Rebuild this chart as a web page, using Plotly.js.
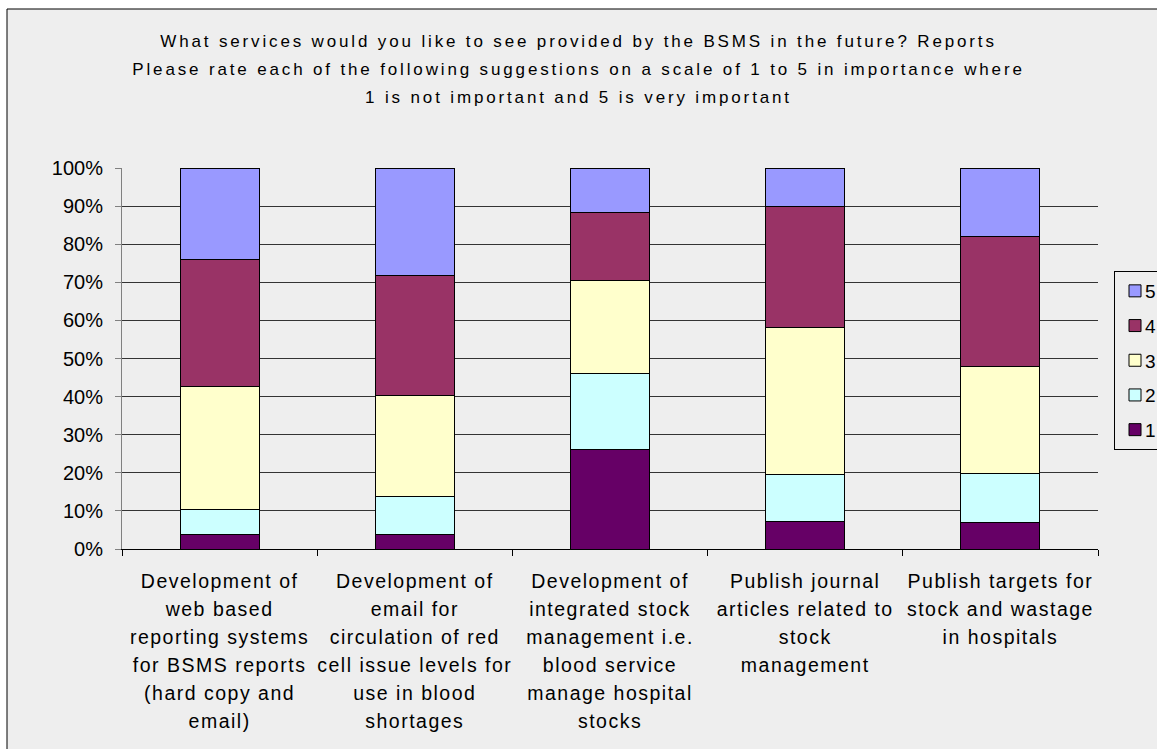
<!DOCTYPE html>
<html><head><meta charset="utf-8">
<script src="https://cdn.plot.ly/plotly-3.0.1.min.js"></script>
<style>
html,body{margin:0;padding:0;background:#fff;}
#chart{width:1157px;height:749px;}
.gtitle{letter-spacing:2.85px;}
.xtick text{letter-spacing:1.5px;}
.legend .legendtext{transform:translateX(-10px);}
</style></head><body><div id="chart"></div>
<script>
const categories = [
  "Development of web based reporting systems for BSMS reports (hard copy and email)",
  "Development of email for circulation of red cell issue levels for use in blood shortages",
  "Development of integrated stock management i.e. blood service manage hospital stocks",
  "Publish journal articles related to stock management",
  "Publish targets for stock and wastage in hospitals"
];
const categoryLabelLines = [
  ["Development of", "web based", "reporting systems", "for BSMS reports", "(hard copy and", "email)"],
  ["Development of", "email for", "circulation of red", "cell issue levels for", "use in blood", "shortages"],
  ["Development of", "integrated stock", "management i.e.", "blood service", "manage hospital", "stocks"],
  ["Publish journal", "articles related to", "stock", "management"],
  ["Publish targets for", "stock and wastage", "in hospitals"]
];
const seriesNames = ["1", "2", "3", "4", "5"];
const rating1 = [3.9, 3.9, 26.2, 7.3, 6.9];
const rating2 = [6.5, 10.0, 19.9, 12.3, 12.9];
const rating3 = [32.2, 26.4, 24.3, 38.5, 28.2];
const rating4 = [33.5, 31.4, 17.9, 31.8, 34.0];
const rating5 = [23.9, 28.3, 11.7, 10.1, 18.0];
const yTickVals = [0, 10, 20, 30, 40, 50, 60, 70, 80, 90, 100];
const yTickText = ["0%", "10%", "20%", "30%", "40%", "50%", "60%", "70%", "80%", "90%", "100%"];
const titleLines = [
  "What services would you like to see provided by the BSMS in the future? Reports",
  "Please rate each of the following suggestions on a scale of 1 to 5 in importance where",
  "1 is not important and 5 is very important"
];

const seriesValues = [rating1, rating2, rating3, rating4, rating5];
const seriesColors = ["#660066", "#CCFFFF", "#FFFFCC", "#993366", "#9999FF"];

const FONT = "Liberation Sans, Arial, sans-serif";
const traces = seriesValues.map((vals, i) => ({
  type: "bar",
  name: seriesNames[i],
  legendgroup: "g" + i,
  legendrank: seriesValues.length - i,
  x: categories,
  y: vals,
  marker: {color: seriesColors[i], line: {color: "#000000", width: 1}},
  hoverinfo: "name+y"
}));

const tickText = categoryLabelLines.map(lines =>
  '<span style="font-size:19.5px">' + lines.join("<br>") + '</span>');

// plot area in pixels: x 122..1098, y 168..549
const L = 122, R = 1157 - 1098, T = 168, B = 749 - 549;
const PW = 1157 - L - R, PH = 749 - T - B;
const px = v => (v - L) / PW;
const py = v => (749 - B - v) / PH;

const layout = {
  width: 1157, height: 749,
  margin: {l: L, r: R, t: T, b: B, autoexpand: false},
  paper_bgcolor: "#ffffff",
  plot_bgcolor: "#eeeeee",
  font: {family: FONT, color: "#000000", size: 19},
  barmode: "stack",
  bargap: 0.595,
  title: {
    text: '<span style="font-size:17px">' + titleLines.join("<br>") + '</span>',
    font: {family: FONT, size: 21.5, color: "#000000"},
    x: 0.5, xref: "container", xanchor: "center",
    y: 1 - 47 / 749, yref: "container", yanchor: "top"
  },
  xaxis: {
    type: "category",
    tickmode: "array",
    tickvals: categories,
    ticktext: tickText,
    tickson: "boundaries",
    ticks: "outside", ticklen: 6, tickcolor: "#000000",
    showline: true, linecolor: "#000000", linewidth: 1,
    showgrid: false,
    tickfont: {family: FONT, size: 21.5, color: "#000000"},
    ticklabelstandoff: 12
  },
  yaxis: {
    range: [0, 100],
    tickmode: "array",
    tickvals: yTickVals,
    ticktext: yTickText,
    ticks: "outside", ticklen: 6, tickcolor: "#808080",
    showline: true, linecolor: "#808080", linewidth: 1,
    showgrid: true, gridcolor: "#333333", gridwidth: 1,
    zeroline: false,
    tickfont: {family: FONT, size: 20, color: "#000000"},
    ticklabelstandoff: 8
  },
  legend: {
    x: px(1114), y: py(271), xanchor: "left", yanchor: "top",
    bgcolor: "#eeeeee", bordercolor: "#000000", borderwidth: 1,
    font: {family: FONT, size: 19, color: "#000000"},
    traceorder: "grouped",
    tracegroupgap: 7
  },
  shapes: [{
    type: "rect", xref: "paper", yref: "paper", layer: "below",
    x0: px(7), x1: px(1175), y0: py(765), y1: py(9),
    line: {color: "#000000", width: 1},
    fillcolor: "#eeeeee"
  }]
};

Plotly.newPlot("chart", traces, layout, {displayModeBar: false, responsive: false});
</script>
</body></html>
